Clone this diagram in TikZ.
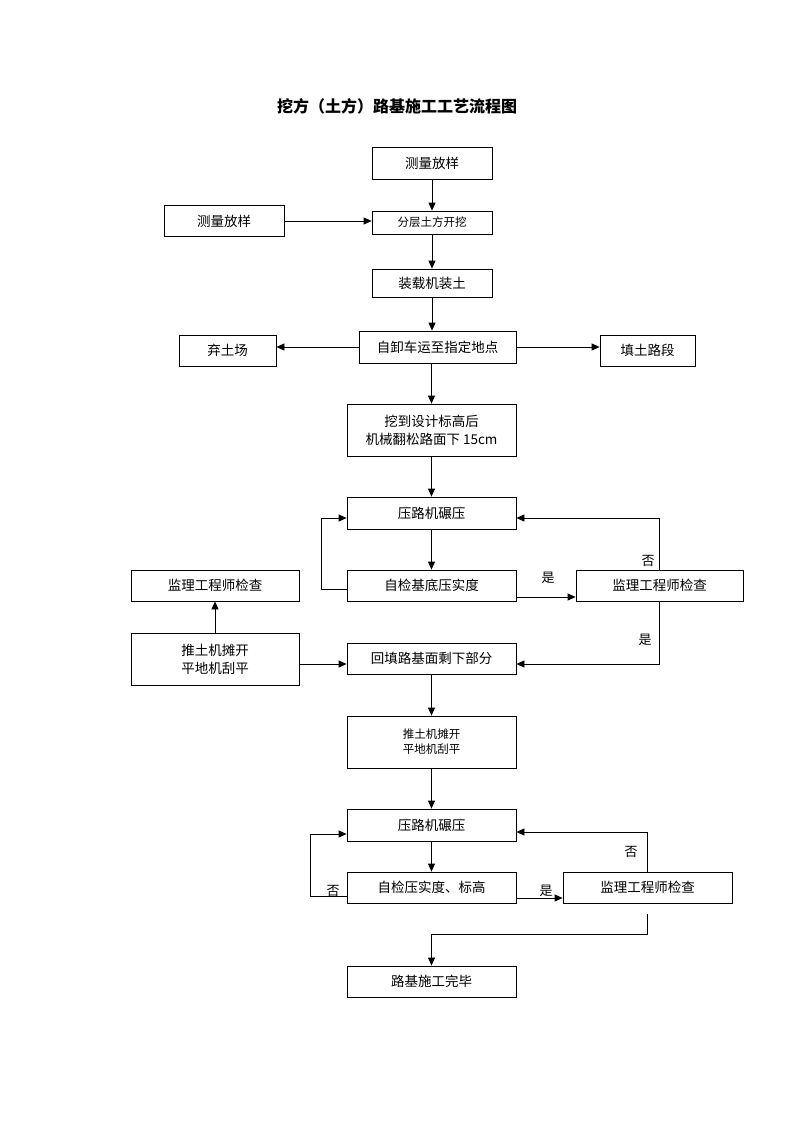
\documentclass[tikz,border=0pt]{standalone}
\usepackage{fontspec}
\newfontfamily\cjk{Noto Sans CJK SC}
\usetikzlibrary{arrows.meta}

\begin{document}
\begin{tikzpicture}[x=1pt,y=-1pt,
  box/.style={draw,line width=0.8pt,inner sep=0pt,align=center,font=\cjk\fontsize{13.5}{18}\selectfont},
  smallbox/.style={box,font=\cjk\fontsize{11.5}{15}\selectfont},
  arr/.style={line width=0.8pt,-{Triangle[length=8pt,width=7pt]}},
  lbl/.style={font=\cjk\fontsize{13}{15}\selectfont}]

\useasboundingbox (0,0) rectangle (793,1122);

\node[font=\cjk\bfseries\fontsize{16}{18}\selectfont] (title) at (397,106) {挖方（土方）路基施工工艺流程图};

\node[box,minimum width=120pt,minimum height=32pt] (cl1) at (432,163) {测量放样};
\node[box,minimum width=120pt,minimum height=31pt] (cl2) at (224,221) {测量放样};
\node[smallbox,minimum width=120pt,minimum height=23pt] (fc) at (432,222.5) {分层土方开挖};
\node[box,minimum width=120pt,minimum height=28pt] (zz) at (432,283) {装载机装土};
\node[box,minimum width=157pt,minimum height=32pt] (zx) at (437.5,347) {自卸车运至指定地点};
\node[box,minimum width=97pt,minimum height=31pt] (qt) at (227.5,350.5) {弃土场};
\node[box,minimum width=95pt,minimum height=31pt] (tt) at (647.5,350.5) {填土路段};
\node[box,minimum width=169pt,minimum height=52pt] (wd) at (431.5,430) {挖到设计标高后\\机械翻松路面下 15cm};

\node[box,minimum width=169pt,minimum height=32pt] (ny1) at (431.5,513) {压路机碾压};
\node[box,minimum width=169pt,minimum height=31pt] (zj1) at (431.5,585.5) {自检基底压实度};
\node[box,minimum width=167pt,minimum height=31pt] (jl1) at (659.5,585.5) {监理工程师检查};
\node[box,minimum width=168pt,minimum height=31pt] (jl0) at (215,585.5) {监理工程师检查};
\node[box,minimum width=168pt,minimum height=52pt] (tj1) at (215,659) {推土机摊开\\平地机刮平};
\node[box,minimum width=169pt,minimum height=31pt] (ht) at (431.5,658.5) {回填路基面剩下部分};
\node[smallbox,minimum width=169pt,minimum height=52pt] (tj2) at (431.5,742) {推土机摊开\\平地机刮平};

\node[box,minimum width=169pt,minimum height=32pt] (ny2) at (431.5,825) {压路机碾压};
\node[box,minimum width=169pt,minimum height=31pt] (zj2) at (431.5,887.5) {自检压实度、标高};
\node[box,minimum width=169pt,minimum height=31pt] (jl2) at (647.5,887.5) {监理工程师检查};
\node[box,minimum width=169pt,minimum height=31pt] (wc) at (431.5,981.5) {路基施工完毕};

\draw[arr] (cl1) -- (fc);
\draw[arr] (cl2.east) -- (cl2.east -| fc.west);
\draw[arr] (fc) -- (zz);
\draw[arr] (zz.south) -- (zz.south |- zx.north);
\draw[arr] (zx.west) -- (zx.west -| qt.east);
\draw[arr] (zx.east) -- (zx.east -| tt.west);
\draw[arr] (wd.north |- zx.south) -- (wd.north);
\draw[arr] (wd) -- (ny1);

\draw[arr] (ny1) -- (zj1);
\draw[arr] ([yshift=-3.5pt]zj1.west) -- ++(-25,0) |- ([yshift=-5pt]ny1.west);
\draw[arr] ([yshift=-11.5pt]zj1.east) -- ([yshift=-11.5pt]zj1.east -| jl1.west);
\draw[arr] (jl1.north) |- ([yshift=-5pt]ny1.east);
\draw[arr] (jl1.south) |- ([yshift=-5.5pt]ht.east);
\draw[arr] ([yshift=-5pt]tj1.east) -- ([yshift=-5pt]tj1.east -| ht.west);
\draw[arr] (tj1) -- (jl0);
\draw[arr] (ht) -- (tj2);
\draw[arr] (tj2) -- (ny2);

\draw[arr] (ny2) -- (zj2);
\draw[arr] ([yshift=-8.5pt]zj2.west) -- ++(-36,0) |- ([yshift=-9pt]ny2.west);
\draw[arr] ([yshift=-10.5pt]zj2.east) -- ([yshift=-10.5pt]zj2.east -| jl2.west);
\draw[arr] (jl2.north) |- ([yshift=-7pt]ny2.east);
\draw[arr] ([yshift=-11pt]jl2.south) -- ++(0,20) -| (wc.north);

\node[lbl] (s1) at (548,578) {是};
\node[lbl] (f1) at (648,561) {否};
\node[lbl] (s2) at (645,640) {是};
\node[lbl] (f2) at (333,891) {否};
\node[lbl] (s3) at (546,891) {是};
\node[lbl] (f3) at (631,852) {否};

\end{tikzpicture}
\end{document}
